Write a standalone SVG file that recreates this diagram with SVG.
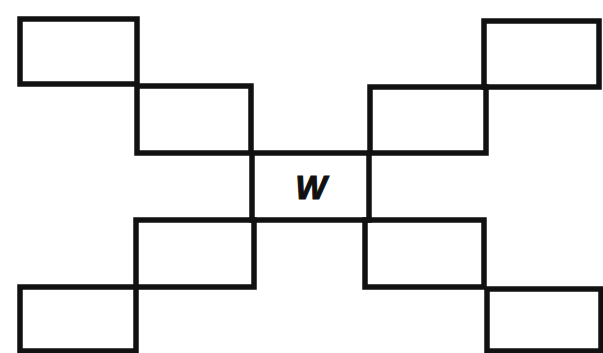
<svg xmlns="http://www.w3.org/2000/svg" width="603" height="353" viewBox="0 0 603 353">
<style>
.b{fill:none;stroke:#111;stroke-width:5.5;stroke-linejoin:miter}
.t{font-family:"Liberation Sans",Arial,sans-serif;font-weight:bold;font-style:italic;font-size:33px;fill:#111;stroke:#111;stroke-width:1.2}
</style>
<rect width="603" height="353" fill="#fff"/>
<g id="tl1"><rect class="b" x="20" y="19" width="117" height="65"/></g>
<g id="tl2"><rect class="b" x="137" y="86" width="114" height="67"/></g>
<g id="center"><rect class="b" x="252" y="153" width="117" height="67"/><text class="t" x="311" y="199" text-anchor="middle">W</text></g>
<g id="tr2"><rect class="b" x="370" y="87" width="116" height="66"/></g>
<g id="tr1"><rect class="b" x="484" y="21" width="115" height="66"/></g>
<g id="bl2"><rect class="b" x="136" y="220" width="118" height="67"/></g>
<g id="bl1"><rect class="b" x="20" y="287" width="116" height="64"/></g>
<g id="br2"><rect class="b" x="365" y="220" width="119" height="67"/></g>
<g id="br1"><rect class="b" x="487" y="289" width="114" height="62"/></g>
<g id="connectors"></g>
</svg>
